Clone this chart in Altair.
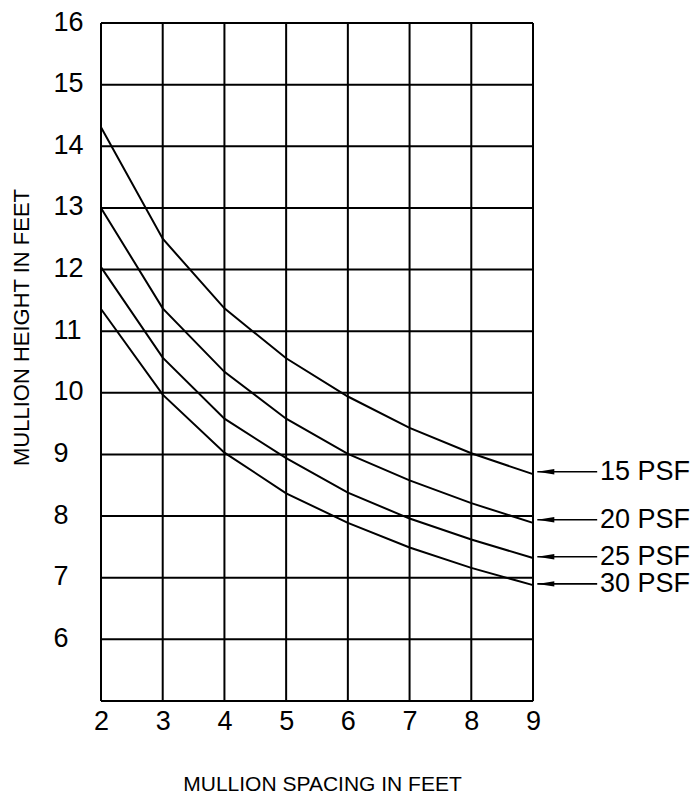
import altair as alt
import pandas as pd

# ---- data ----
spacing = [2, 3, 4, 5, 6, 7, 8, 9]
psf15 = [14.31, 12.50, 11.37, 10.56, 9.94, 9.43, 9.02, 8.68]
psf20 = [13.00, 11.37, 10.34, 9.58, 9.01, 8.58, 8.21, 7.89]
psf25 = [12.04, 10.57, 9.58, 8.94, 8.38, 7.96, 7.62, 7.32]
psf30 = [11.36, 9.97, 9.03, 8.37, 7.89, 7.49, 7.16, 6.88]

series_names = ["15 PSF", "20 PSF", "25 PSF", "30 PSF"]
label_heights = [8.72, 7.94, 7.34, 6.90]

x_ticks = [2, 3, 4, 5, 6, 7, 8, 9]
y_ticks = [5, 6, 7, 8, 9, 10, 11, 12, 13, 14, 15, 16]
y_labels = [6, 7, 8, 9, 10, 11, 12, 13, 14, 15, 16]

X_MIN, X_MAX = 2, 9
Y_MIN, Y_MAX = 5, 16
ARROW_TIP, ARROW_END, LABEL_X = 9.07, 10.04, 10.085

FONT = "Liberation Sans"

rows = []
for name, vals in zip(series_names, [psf15, psf20, psf25, psf30]):
    for xv, yv in zip(spacing, vals):
        rows.append({"series": name, "x": xv, "y": yv})
curves = pd.DataFrame(rows)

labels = pd.DataFrame({
    "series": series_names,
    "y": label_heights,
    "x0": [ARROW_TIP] * 4,
    "x1": [ARROW_END] * 4,
    "tx": [LABEL_X] * 4,
})

vgrid = pd.DataFrame({"x": x_ticks, "y0": [Y_MIN] * len(x_ticks), "y1": [Y_MAX] * len(x_ticks)})
hgrid = pd.DataFrame({"y": y_ticks, "x0": [X_MIN] * len(y_ticks), "x1": [X_MAX] * len(y_ticks)})

xs = alt.Scale(domain=[X_MIN, X_MAX], nice=False, zero=False)
ys = alt.Scale(domain=[Y_MIN, Y_MAX], nice=False, zero=False)

x_axis = alt.Axis(
    values=x_ticks, grid=False, domain=False, ticks=False, labelFlush=False,
    labelFont=FONT, labelFontSize=27, labelColor="black", labelPadding=7,
    title="MULLION SPACING IN FEET", titleFont=FONT, titleFontSize=21,
    titleFontWeight="normal", titleColor="black",
    titleX=221, titleY=89, titleBaseline="alphabetic", titleAlign="center",
)
y_axis = alt.Axis(
    values=y_labels, grid=False, domain=False, ticks=False, labelFlush=False,
    labelFont=FONT, labelFontSize=27, labelColor="black",
    labelAlign="left", labelPadding=48, labelOffset=-1,
    title="MULLION HEIGHT IN FEET", titleFont=FONT, titleFontSize=22,
    titleFontWeight="normal", titleColor="black",
    titleX=-73, titleY=304, titleBaseline="alphabetic", titleAlign="center",
    titleAngle=270,
)

lines = alt.Chart(curves).mark_line(color="black", strokeWidth=2).encode(
    x=alt.X("x:Q", scale=xs, axis=x_axis),
    y=alt.Y("y:Q", scale=ys, axis=y_axis),
    detail="series:N",
)

vlines = alt.Chart(vgrid).mark_rule(color="black", strokeWidth=2).encode(
    x=alt.X("x:Q", scale=xs, axis=x_axis),
    y=alt.Y("y0:Q", scale=ys, axis=y_axis),
    y2="y1:Q",
)
hlines = alt.Chart(hgrid).mark_rule(color="black", strokeWidth=2).encode(
    y=alt.Y("y:Q", scale=ys, axis=y_axis),
    x=alt.X("x0:Q", scale=xs, axis=x_axis),
    x2="x1:Q",
)

arrows = alt.Chart(labels).mark_rule(color="black", strokeWidth=1.6, clip=False).encode(
    x=alt.X("x0:Q", scale=xs, axis=x_axis),
    x2="x1:Q",
    y=alt.Y("y:Q", scale=ys, axis=y_axis),
)

heads = alt.Chart(labels).mark_point(
    shape="M -1 0 L 1 -0.32 L 1 0.32 Z", size=289, filled=True,
    color="black", opacity=1, xOffset=8.5, clip=False,
).encode(
    x=alt.X("x0:Q", scale=xs, axis=x_axis),
    y=alt.Y("y:Q", scale=ys, axis=y_axis),
)

texts = alt.Chart(labels).mark_text(
    font=FONT, fontSize=27, align="left", baseline="middle", color="black", clip=False,
).encode(
    x=alt.X("tx:Q", scale=xs, axis=x_axis),
    y=alt.Y("y:Q", scale=ys, axis=y_axis),
    text="series:N",
)

chart = alt.layer(vlines, hlines, lines, arrows, heads, texts).properties(
    width=432,
    height=678,
    autosize=alt.AutoSizeParams(type="none"),
    padding={"left": 93, "top": 15, "right": 157, "bottom": 92},
).configure_view(stroke=None).configure(background="white")

chart.save("out.html", embed_options={"renderer": "svg", "actions": False})
